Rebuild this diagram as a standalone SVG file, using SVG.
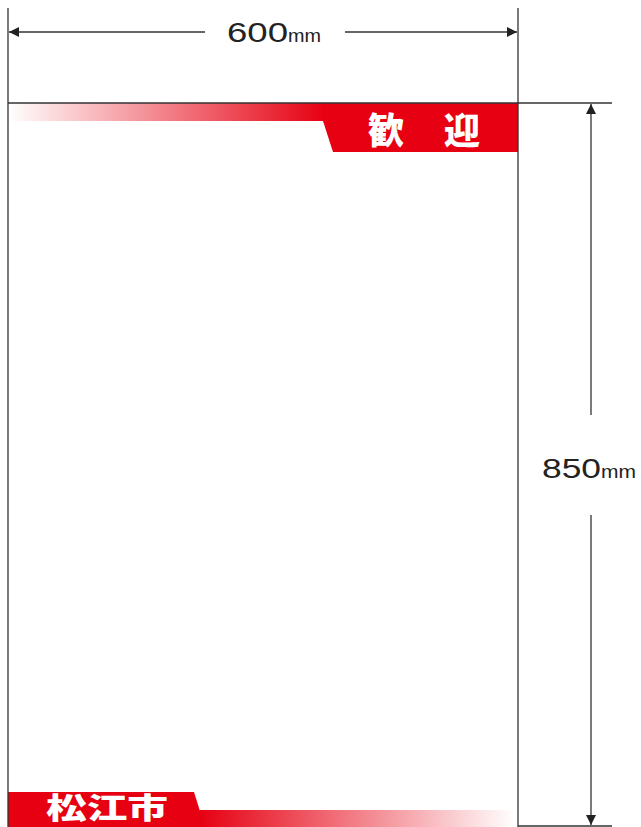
<svg xmlns="http://www.w3.org/2000/svg" width="641" height="827" viewBox="0 0 641 827">
<style>
.ln{stroke:#333;stroke-width:1.3;fill:none}
.dim{font-family:"Liberation Sans",Arial,sans-serif;fill:#222}
.cjk{font-family:"Noto Sans CJK JP","Noto Sans CJK SC",sans-serif;font-weight:900;fill:#fff}
</style>
<defs>
<marker id="ah" viewBox="0 0 10 10" refX="10" refY="5" markerWidth="10" markerHeight="10" markerUnits="userSpaceOnUse" orient="auto-start-reverse">
<path d="M0,0 L10,5 L0,10 z" fill="#222"/>
</marker>
<linearGradient id="gTop" x1="8" y1="0" x2="325" y2="0" gradientUnits="userSpaceOnUse">
<stop offset="0" stop-color="#e60012" stop-opacity="0"/>
<stop offset="1" stop-color="#e60012"/>
</linearGradient>
<linearGradient id="gBot" x1="200" y1="0" x2="515" y2="0" gradientUnits="userSpaceOnUse">
<stop offset="0" stop-color="#e60012"/>
<stop offset="1" stop-color="#e60012" stop-opacity="0"/>
</linearGradient>
</defs>
<rect width="641" height="827" fill="#fff"/>
<g id="banner-top">
<rect x="8" y="103" width="318" height="18" fill="url(#gTop)"/>
<path d="M322,103 H518 V152 H333 L323,121 Z" fill="#e60012"/>
<text class="cjk" x="386" y="144" font-size="36" text-anchor="middle">歓</text>
<text class="cjk" x="462" y="144" font-size="36" text-anchor="middle">迎</text>
</g>
<g id="banner-bottom">
<rect x="200" y="810" width="318" height="17" fill="url(#gBot)"/>
<path d="M8,792 H194 L205,827 H8 Z" fill="#e60012"/>
<text class="cjk" x="46" y="819" font-size="29" textLength="122" lengthAdjust="spacingAndGlyphs">松江市</text>
</g>
<g id="poster">
<line class="ln" x1="8" y1="8" x2="8" y2="827"/>
<line class="ln" x1="518" y1="8" x2="518" y2="827"/>
<line class="ln" x1="8" y1="103" x2="612" y2="103"/>
<line class="ln" x1="518" y1="826" x2="612" y2="826"/>
</g>
<g id="connectors">
<line class="ln" x1="205" y1="32" x2="9" y2="32" marker-end="url(#ah)"/>
<line class="ln" x1="345" y1="32" x2="517" y2="32" marker-end="url(#ah)"/>
<line class="ln" x1="591" y1="415" x2="591" y2="104" marker-end="url(#ah)"/>
<line class="ln" x1="591" y1="515" x2="591" y2="825" marker-end="url(#ah)"/>
</g>
<g id="label-width">
<text class="dim" x="227" y="42"><tspan font-size="28" textLength="61" lengthAdjust="spacingAndGlyphs">600</tspan><tspan font-size="19" textLength="33" lengthAdjust="spacingAndGlyphs">mm</tspan></text>
</g>
<g id="label-height">
<text class="dim" x="542" y="478"><tspan font-size="28" textLength="59" lengthAdjust="spacingAndGlyphs">850</tspan><tspan font-size="19" textLength="35" lengthAdjust="spacingAndGlyphs">mm</tspan></text>
</g>
</svg>
